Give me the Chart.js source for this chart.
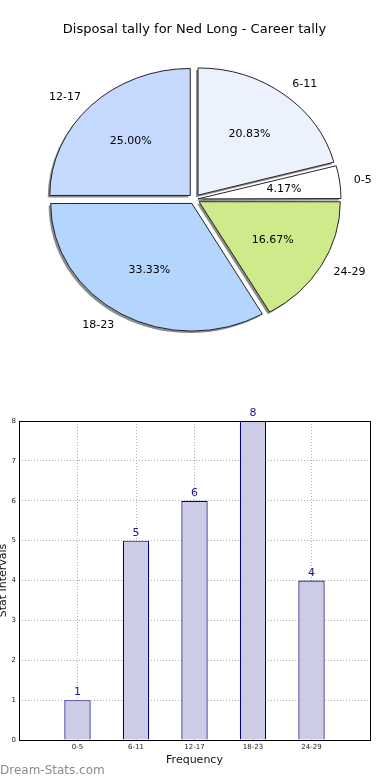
<!DOCTYPE html>
<html>
<head>
<meta charset="utf-8">
<script src="https://cdn.jsdelivr.net/npm/chart.js@4.4.0/dist/chart.umd.min.js"></script>
<style>
  body { margin: 0; background: #fff; width: 390px; height: 780px; position: relative; overflow: hidden; }
  #pieBox { position: absolute; left: 0; top: 0; width: 390px; height: 390px; }
  #barBox { position: absolute; left: 0; top: 400px; width: 390px; height: 380px; }
  #mark { position: absolute; left: 0; top: 763px; font: 12px "DejaVu Sans", sans-serif; color: #8c8c8c; }
</style>
</head>
<body>
<div id="pieBox"><canvas id="pieChart"></canvas></div>
<div id="barBox"><canvas id="barChart"></canvas></div>
<div id="mark">Dream-Stats.com</div>
<script>
// Stat intervals and how many games fell in each
const intervals = ["0-5", "6-11", "12-17", "18-23", "24-29"];
const counts = [1, 5, 6, 8, 4];
const sliceColors = ["#ffffff", "#ebf2fe", "#c5d8fe", "#b4d5fe", "#cfea8b"];
const yTicks = [0, 1, 2, 3, 4, 5, 6, 7, 8];

const chartTitle = "Disposal tally for Ned Long - Career tally";
const FONT = '"DejaVu Sans", sans-serif';

// pie looks squashed in the original, so draw it as an ellipse
const RADIUS = 140.5;
const SQUASH = 127 / 140.5;
const EXPLODE = 6;

const total = counts.reduce((a, b) => a + b, 0);

// matplotlib goes counter clockwise from 3 o'clock, chart.js clockwise
const pieLabels = intervals.slice().reverse();
const pieValues = counts.slice().reverse();
const pieColors = sliceColors.slice().reverse();

const pieExtras = {
  id: 'pieExtras',
  beforeDatasetsDraw(chart) {
    const ctx = chart.ctx;
    const arcs = chart.getDatasetMeta(0).data;
    const cx = arcs[0].x, cy = arcs[0].y;
    ctx.save();
    ctx.translate(cx, cy);
    ctx.scale(1, SQUASH);
    ctx.translate(-cx, -cy);
    // shadow pass: fills only, the real slices go on top
    ctx.save();
    ctx.shadowColor = 'rgba(0,0,0,0.45)';
    ctx.shadowOffsetX = -2;
    ctx.shadowOffsetY = 2;
    ctx.shadowBlur = 0;
    arcs.forEach(arc => {
      const o = arc.options;
      arc.options = Object.assign({}, o, { borderWidth: 0 });
      arc.draw(ctx);
      arc.options = o;
    });
    ctx.restore();
  },
  afterDatasetsDraw(chart) {
    const ctx = chart.ctx;
    ctx.restore();
    ctx.save();
    ctx.fillStyle = '#000';
    ctx.font = '11px ' + FONT;
    ctx.textBaseline = 'middle';
    chart.getDatasetMeta(0).data.forEach((arc, i) => {
      const p = arc.getProps(['x', 'y', 'startAngle', 'endAngle', 'outerRadius']);
      const mid = (p.startAngle + p.endAngle) / 2;
      const c = Math.cos(mid), s = Math.sin(mid);
      // outside label
      let r = 1.1 * p.outerRadius + EXPLODE;
      ctx.textAlign = c > 0 ? 'left' : 'right';
      ctx.fillText(pieLabels[i], p.x + c * r, p.y + s * r * SQUASH);
      // percentage
      r = 0.6 * p.outerRadius + EXPLODE;
      ctx.textAlign = 'center';
      const pct = (pieValues[i] / total * 100).toFixed(2) + '%';
      ctx.fillText(pct, p.x + c * r, p.y + s * r * SQUASH);
    });
    ctx.restore();
  }
};

new Chart(document.getElementById('pieChart'), {
  type: 'pie',
  data: {
    labels: pieLabels,
    datasets: [{
      data: pieValues,
      backgroundColor: pieColors,
      borderColor: '#1a1a1a',
      borderWidth: 1,
      clip: false,
      // chart.js offset is not a plain shift, undo its fudge so every slice moves EXPLODE px
      offset: c => {
        const circ = c.raw / total * Math.PI * 2;
        const fix = 1 - Math.sin(Math.min(Math.PI, circ));
        return 4 * EXPLODE / (1 + fix);
      }
    }]
  },
  options: {
    responsive: true,
    maintainAspectRatio: false,
    animation: false,
    rotation: 90,
    radius: RADIUS,
    layout: { padding: { left: 0, right: 1, top: 0, bottom: 39 } },
    plugins: {
      legend: { display: false },
      tooltip: { enabled: false },
      title: {
        display: true,
        text: chartTitle,
        color: '#000',
        font: { family: FONT, size: 13, weight: 'normal' },
        padding: { top: 22, bottom: 10 }
      }
    }
  },
  plugins: [pieExtras]
});

// bar chart: pad an empty slot on both ends like the original axis (-1 .. 5)
const barLabels = [''].concat(intervals, ['']);
const barValues = [null].concat(counts, [null]);

const barExtras = {
  id: 'barExtras',
  afterDraw(chart) {
    const ctx = chart.ctx;
    const a = chart.chartArea;
    ctx.save();
    ctx.strokeStyle = '#000';
    ctx.lineWidth = 1;
    ctx.strokeRect(Math.round(a.left) + 0.5, Math.round(a.top) + 0.5,
      Math.round(a.right - a.left), Math.round(a.bottom - a.top));
    ctx.fillStyle = '#1c1c8c';
    ctx.font = '11px ' + FONT;
    ctx.textAlign = 'center';
    ctx.textBaseline = 'bottom';
    chart.getDatasetMeta(0).data.forEach((bar, i) => {
      if (barValues[i] == null) return;
      ctx.fillText(String(barValues[i]), bar.x, bar.y - 2);
    });
    ctx.restore();
  }
};

const gridStyle = {
  color: '#b0b0b0',
  lineWidth: 1,
  drawTicks: false,
  offset: false
};

new Chart(document.getElementById('barChart'), {
  type: 'bar',
  data: {
    labels: barLabels,
    datasets: [{
      data: barValues,
      backgroundColor: '#ccccE6',
      borderColor: '#00007a',
      borderWidth: 1.2,
      categoryPercentage: 1,
      barPercentage: 0.45
    }]
  },
  options: {
    responsive: true,
    maintainAspectRatio: false,
    animation: false,
    layout: { padding: { left: 0, right: 20, top: 21, bottom: 0 } },
    plugins: { legend: { display: false }, tooltip: { enabled: false } },
    scales: {
      x: {
        z: 1,
        offset: false,
        grid: gridStyle,
        border: { display: false, dash: [1, 2] },
        ticks: { color: '#222', font: { family: FONT, size: 7 }, padding: 3, maxRotation: 0, autoSkip: false },
        title: { display: true, text: 'Frequency', color: '#111', font: { family: FONT, size: 11 }, padding: { top: 0, bottom: 13 } },
        afterFit: s => { s.height = 40; }
      },
      y: {
        z: 1,
        min: yTicks[0],
        max: yTicks[yTicks.length - 1],
        grid: gridStyle,
        border: { display: false, dash: [1, 2] },
        afterBuildTicks: s => { s.ticks = yTicks.map(v => ({ value: v })); },
        ticks: { color: '#222', font: { family: FONT, size: 7 }, padding: 3 },
        title: { display: true, text: 'Stat Intervals', color: '#111', font: { family: FONT, size: 11 }, padding: { top: -3, bottom: 0 } },
        afterFit: s => { s.width = 19; }
      }
    }
  },
  plugins: [barExtras]
});
</script>
</body>
</html>
